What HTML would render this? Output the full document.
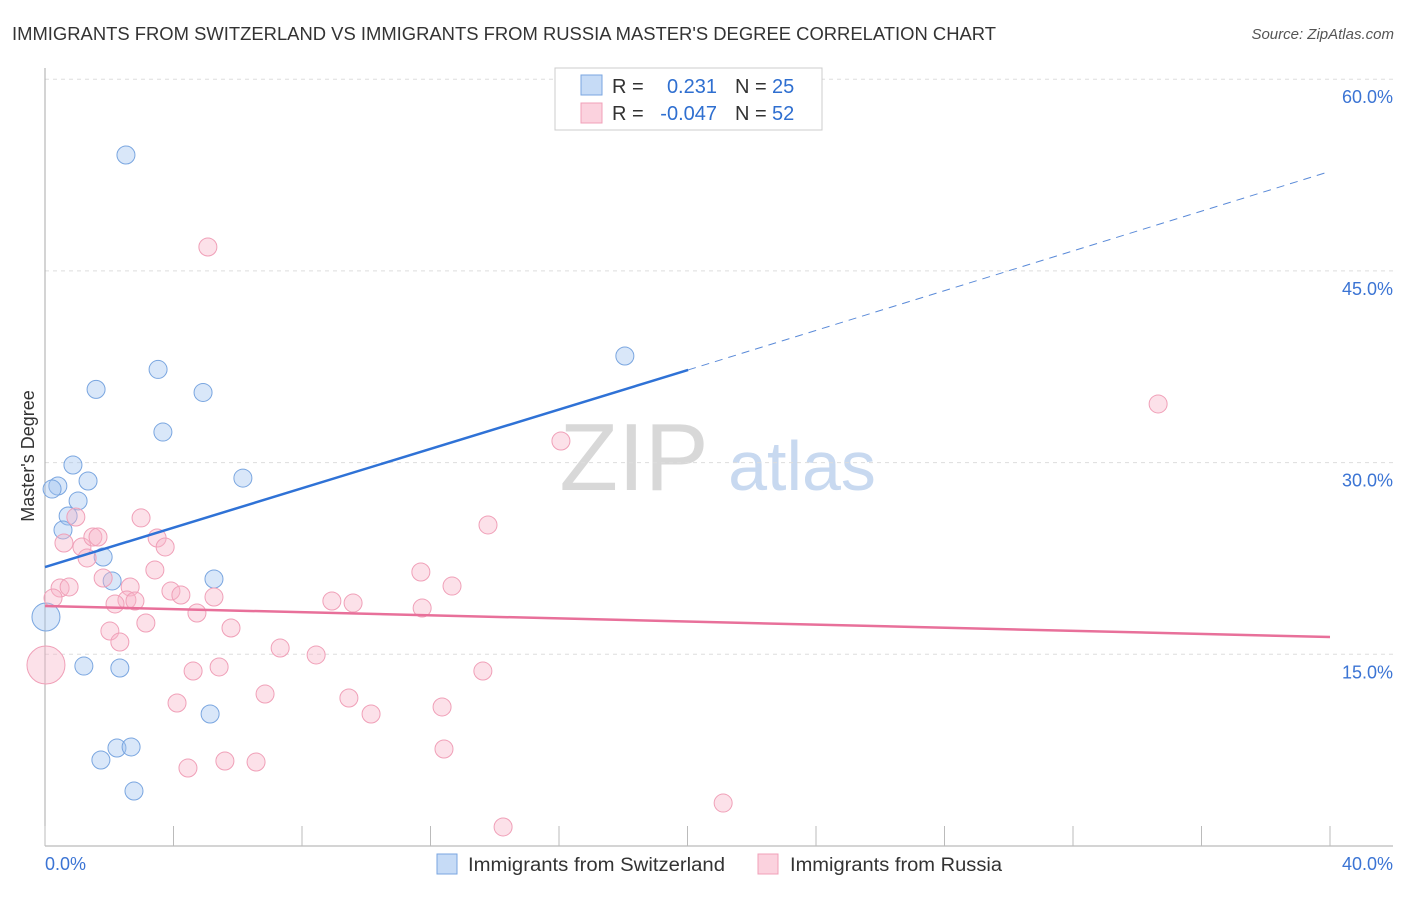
<!DOCTYPE html>
<html><head><meta charset="utf-8"><style>
body{margin:0;background:#fff;font-family:"Liberation Sans",sans-serif;}
svg text{font-family:"Liberation Sans",sans-serif;}
</style></head><body>
<svg id="chart" width="1406" height="892" xmlns="http://www.w3.org/2000/svg">
<text x="12" y="40" font-size="18" fill="#333" textLength="984" lengthAdjust="spacingAndGlyphs">IMMIGRANTS FROM SWITZERLAND VS IMMIGRANTS FROM RUSSIA MASTER'S DEGREE CORRELATION CHART</text>
<text x="1394" y="39" font-size="15" fill="#555" font-style="italic" text-anchor="end">Source: ZipAtlas.com</text>
<g>
<text x="634" y="490" font-size="96" fill="#d8d8d8" font-family="Liberation Serif" text-anchor="middle">ZIP</text>
<text x="802" y="490" font-size="70" fill="#c8d9f0" text-anchor="middle">atlas</text>
</g>
<g id="grid"></g>
<g id="axes"></g>
<g id="marks"></g>
<text transform="translate(34,456) rotate(-90)" font-size="18" fill="#333" text-anchor="middle">Master's Degree</text>
<g>
<rect x="555" y="68" width="267" height="62" fill="#fff" stroke="#ccc"/>
<rect x="581" y="75" width="21" height="20" fill="rgba(160,195,240,0.6)" stroke="#7aa6e0"/>
<rect x="581" y="103" width="21" height="20" fill="rgba(248,180,200,0.6)" stroke="#f0a0b8"/>
<text x="612" y="93" font-size="20" fill="#333">R = </text><text x="717" y="93" font-size="20" fill="#2f6fd0" text-anchor="end">0.231</text>
<text x="735" y="93" font-size="20" fill="#333">N = </text><text x="772" y="93" font-size="20" fill="#2f6fd0">25</text>
<text x="612" y="120" font-size="20" fill="#333">R = </text><text x="717" y="120" font-size="20" fill="#2f6fd0" text-anchor="end">-0.047</text>
<text x="735" y="120" font-size="20" fill="#333">N = </text><text x="772" y="120" font-size="20" fill="#2f6fd0">52</text>
</g>
<g>
<rect x="437" y="854" width="20" height="20" fill="rgba(160,195,240,0.6)" stroke="#7aa6e0"/>
<text x="468" y="871" font-size="19" fill="#333" textLength="257" lengthAdjust="spacingAndGlyphs">Immigrants from Switzerland</text>
<rect x="758" y="854" width="20" height="20" fill="rgba(248,180,200,0.6)" stroke="#f0a0b8"/>
<text x="790" y="871" font-size="19" fill="#333" textLength="212" lengthAdjust="spacingAndGlyphs">Immigrants from Russia</text>
</g>
</svg>
<script>
const blueX=[2.52,3.52,1.59,4.92,3.67,6.16,0.87,0.40,0.22,1.34,1.03,0.72,0.56,1.81,2.09,5.26,0.03,1.21,2.33,5.14,1.74,2.24,2.68,2.77,18.05];
const blueY=[54.07,37.29,35.73,35.49,32.39,28.79,29.81,28.17,27.93,28.56,27.0,25.82,24.73,22.61,20.74,20.89,17.92,14.08,13.93,10.33,6.73,7.67,7.75,4.30,38.34];
const blueR=[9,9,9,9,9,9,9,9,9,9,9,9,9,9,9,9,14,9,9,9,9,9,9,9,9];
const pinkX=[5.07,16.06,34.65,13.79,0.96,2.99,0.59,1.15,1.49,1.65,3.49,3.74,1.31,3.42,1.81,0.47,0.75,0.25,2.65,2.55,2.18,2.80,3.92,4.23,5.26,11.70,12.67,8.93,9.59,11.74,4.73,3.14,5.79,2.02,2.33,7.32,8.44,0.03,4.61,5.42,13.63,6.85,4.11,9.46,12.36,10.15,12.42,4.45,5.60,6.57,21.11,14.26];
const pinkY=[46.87,31.69,34.59,25.12,25.74,25.67,23.71,23.40,24.18,24.18,24.10,23.40,22.54,21.60,20.97,20.19,20.27,19.41,20.27,19.25,18.94,19.17,19.95,19.64,19.48,21.44,20.34,19.17,19.01,18.62,18.23,17.45,17.06,16.82,15.96,15.49,14.95,14.16,13.69,14.01,13.69,11.89,11.19,11.58,10.88,10.33,7.59,6.10,6.65,6.57,3.36,1.49];
const pinkR=pinkX.map((v,i)=>i===37?19:9);
const yTicks=[15,30,45,60];
const yTickLabels=["15.0%","30.0%","45.0%","60.0%"];
const xTicks=[0,4,8,12,16,20,24,28,32,36,40];
const blueTrend=[[0,21.83],[20.02,37.25],[39.84,52.66]];
const pinkTrend=[[0,18.78],[40,16.35]];
const NS="http://www.w3.org/2000/svg";
const X=v=>45+v*32.125, Y=v=>846-v*12.78;
function mk(tag,attrs,parent){const e=document.createElementNS(NS,tag);for(const k in attrs)e.setAttribute(k,attrs[k]);parent.appendChild(e);return e;}
const grid=document.getElementById('grid'),axes=document.getElementById('axes'),marks=document.getElementById('marks');
yTicks.forEach((t,i)=>{
 const l=mk('line',{x1:45,x2:1393,y1:Y(t),y2:Y(t),stroke:'#ddd','stroke-dasharray':'4,4'},grid);
 
 
 const tx=mk('text',{x:1393,y:Y(t)+24,'font-size':18,fill:'#3b74d4','text-anchor':'end'},axes);
 tx.textContent=yTickLabels[i];
 
 
});
let a=mk('line',{x1:45,x2:45,y1:68,y2:846,stroke:'#aaa'},axes);


a=mk('line',{x1:45,x2:1393,y1:846,y2:846,stroke:'#aaa'},axes);


xTicks.forEach(t=>{const l=mk('line',{x1:X(t),x2:X(t),y1:826,y2:846,stroke:'#bbb'},axes);
 
 });
let t0=mk('text',{x:45,y:870,'font-size':18,fill:'#3b74d4'},axes);t0.textContent='0.0%';


t0=mk('text',{x:1393,y:870,'font-size':18,fill:'#3b74d4','text-anchor':'end'},axes);t0.textContent='40.0%';


function dots(xs,ys,rs,fill,stroke,name){xs.forEach((x,i)=>{const c=mk('circle',{cx:X(x),cy:Y(ys[i]),r:rs[i],fill:fill,stroke:stroke,'stroke-width':1},marks);
 
 });}
dots(blueX,blueY,blueR,'rgba(160,195,240,0.4)','#7aa6e0','point-switzerland');
dots(pinkX,pinkY,pinkR,'rgba(248,180,200,0.4)','#f0a0b8','point-russia');
let ln=mk('line',{x1:X(blueTrend[0][0]),y1:Y(blueTrend[0][1]),x2:X(blueTrend[1][0]),y2:Y(blueTrend[1][1]),stroke:'#2f72d6','stroke-width':2.5},marks);


ln=mk('line',{x1:X(blueTrend[1][0]),y1:Y(blueTrend[1][1]),x2:X(blueTrend[2][0]),y2:Y(blueTrend[2][1]),stroke:'#5a8ad8','stroke-width':1,'stroke-dasharray':'8,6'},marks);


ln=mk('line',{x1:X(pinkTrend[0][0]),y1:Y(pinkTrend[0][1]),x2:X(pinkTrend[1][0]),y2:Y(pinkTrend[1][1]),stroke:'#e8709a','stroke-width':2.5},marks);


</script>
</body></html>
